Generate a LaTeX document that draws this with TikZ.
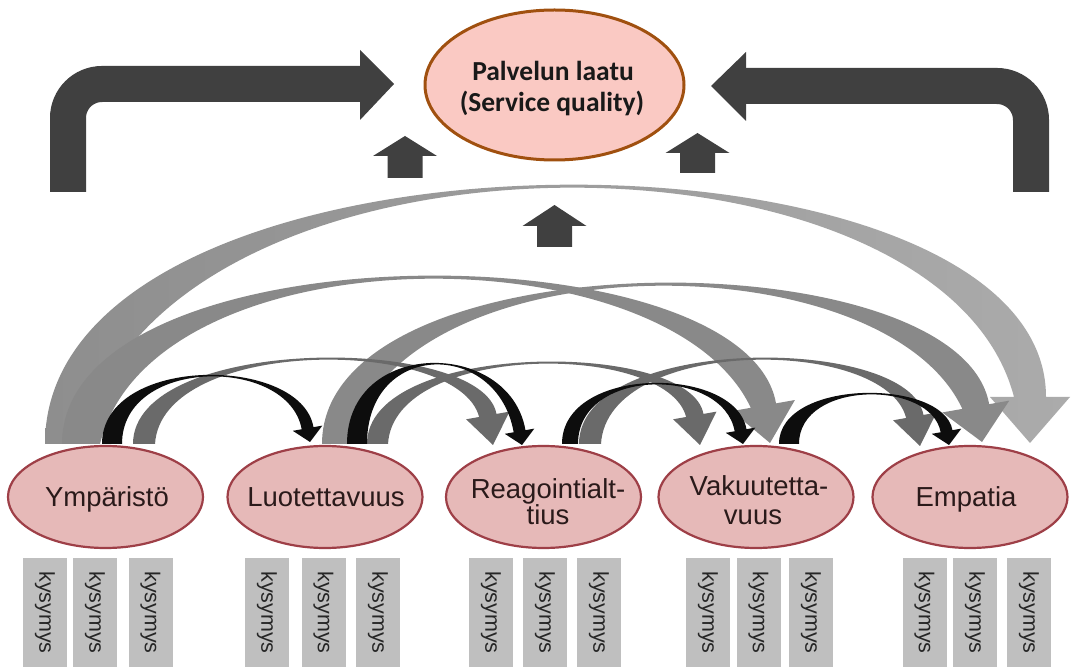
\documentclass[tikz,border=0pt]{standalone}
\usepackage{fontspec}
\setmainfont{Liberation Sans}
\newfontfamily\calibfont{Carlito}
\usetikzlibrary{shapes.geometric}
\definecolor{darkarrow}{HTML}{404040}
\definecolor{lgrayL}{HTML}{8E8E8E}
\definecolor{lgrayR}{HTML}{ABABAB}
\definecolor{mgray}{HTML}{898989}
\definecolor{dgray}{HTML}{6A6A6A}
\definecolor{blk}{HTML}{0D0D0D}
\definecolor{ellfill}{HTML}{E6B9B8}
\definecolor{ellborder}{HTML}{9E3F47}
\definecolor{topfill}{HTML}{FAC9C3}
\definecolor{topborder}{HTML}{A0500F}
\definecolor{boxgray}{HTML}{BFBFBF}
\definecolor{lbltext}{HTML}{2A1A1A}
\def\yb{444}
\def\tilt{80}
\def\flank{0.08}
% crescent-shaped curved arrow
% #1 style, #2 source left x, #3 source right x, #4 outer apex y, #5 apex thickness,
% #6 tip x, #7 tip y, #8 head half width, #9 head length
\newcommand\crarrow[9]{%
 \pgfmathsetmacro\ca{cos(\tilt)}%
 \pgfmathsetmacro\sa{sin(\tilt)}%
 \pgfmathsetmacro\be{0.4*#8}%
 \pgfmathsetmacro\Ex{#6-#9*\ca}%
 \pgfmathsetmacro\Ey{#7-#9*\sa}%
 \pgfmathsetmacro\eOx{\Ex+\be*\sa}%
 \pgfmathsetmacro\eOy{\Ey-\be*\ca}%
 \pgfmathsetmacro\eIx{\Ex-\be*\sa}%
 \pgfmathsetmacro\eIy{\Ey+\be*\ca}%
 \pgfmathsetmacro\wOx{\Ex+#8*\sa}%
 \pgfmathsetmacro\wOy{\Ey-#8*\ca}%
 \pgfmathsetmacro\wIx{\Ex-#8*\sa}%
 \pgfmathsetmacro\wIy{\Ey+#8*\ca}%
 \pgfmathsetmacro\cO{(8*#4-\yb-\eOy)/6}%
 \pgfmathsetmacro\cI{(8*(#4+#5)-\yb-\eIy)/6}%
 \pgfmathsetmacro\pOx{\eOx-(\eOy-\cO)*\ca/\sa}%
 \pgfmathsetmacro\sh{\flank*(\eIx-#3)}%
 \pgfmathsetmacro\pIx{\eIx-(\eIy-\cI)*\ca/\sa-\sh}%
 \pgfmathsetmacro\qIx{#3+\sh}%
 \path[#1] (#2,\yb) .. controls (#2,\cO) and (\pOx,\cO) .. (\eOx,\eOy)
   -- (\wOx,\wOy) -- (#6,#7) -- (\wIx,\wIy) -- (\eIx,\eIy)
   .. controls (\pIx,\cI) and (\qIx,\cI) .. (#3,\yb) -- cycle;
}
\begin{document}
\begin{tikzpicture}[x=1pt,y=-1pt,
  bigarrow/.style={draw=darkarrow, line width=36pt, rounded corners=34pt},
  dkfill/.style={fill=darkarrow},
  ellb/.style={ellipse, draw=ellborder, fill=ellfill, line width=2.2pt,
    minimum width=195pt, minimum height=102pt, inner sep=0pt},
  topell/.style={ellipse, draw=topborder, fill=topfill, line width=3pt,
    minimum width=259pt, minimum height=150pt, inner sep=0pt},
  lbl/.style={font=\fontsize{27.5}{28}\selectfont, text=lbltext, anchor=base, inner sep=0pt},
  ttl/.style={font=\calibfont\bfseries\fontsize{27.5}{30}\selectfont, text=black!90, anchor=base, inner sep=0pt},
  qbox/.style={rectangle, fill=boxgray, rotate=-90, minimum width=109pt,
    minimum height=44pt, inner sep=0pt, font=\fontsize{21.5}{22}\selectfont, text=black!85},
  lightarr/.style={shade, left color=lgrayL, right color=lgrayR},
  medarr/.style={fill=mgray},
  darkgarr/.style={fill=dgray},
  blackarr/.style={fill=blk}
]
\fill[white] (0,0) rectangle (1072,668);
\useasboundingbox (0,0) rectangle (1072,668);

% ---- curved arrows between the dimensions ----
\begingroup\def\tilt{90}
\crarrow{lightarr}{45}{82}{185}{3}{1030}{443}{40}{46}
\endgroup
\crarrow{medarr}{322}{349}{283}{3}{982}{442}{34}{36}
\crarrow{medarr}{62}{100}{276}{3}{770}{443}{32}{38}
\begingroup\def\flank{0.02}
\crarrow{darkgarr}{133}{155}{358}{2}{493}{445}{22}{30}
\crarrow{darkgarr}{367}{388}{362}{2}{700}{445}{22}{30}
\crarrow{darkgarr}{579}{601}{358}{2}{920}{446}{22}{30}
\endgroup
\begingroup\def\flank{0}
\crarrow{blackarr}{102}{122}{375}{1.5}{310}{442}{15}{14}
\crarrow{blackarr}{347}{367}{363}{1.5}{522}{445}{15}{14}
\crarrow{blackarr}{562}{578}{383}{1.5}{743}{444}{15}{14}
\crarrow{blackarr}{779}{799}{393}{1.5}{949}{445}{15}{14}
\endgroup

% ---- top node ----
\node[topell] (top) at (554.5,85) {};
\node[ttl] (top1) at (553,81) {Palvelun laatu};
\node[ttl] (top2) at (552,112) {(Service quality)};

% ---- big bent arrows ----
\coordinate (ls) at (68,192);
\coordinate (lc) at (68,84);
\coordinate (le) at (361,84);
\draw[bigarrow] (ls) -- (lc) -- (le);
\fill[dkfill] (360,50) -- (394,84) -- (360,120) -- cycle;
\coordinate (rs) at (1031,192);
\coordinate (rc) at (1031,86);
\coordinate (re) at (745,86);
\draw[bigarrow] (rs) -- (rc) -- (re);
\fill[dkfill] (746,52) -- (711,86) -- (746,121) -- cycle;

% ---- small up arrows ----
\fill[dkfill] (387.5,178) -- (387.5,156) -- (373,156) -- (405,136) -- (437,156) -- (422.5,156) -- (422.5,178) -- cycle;
\fill[dkfill] (680,173) -- (680,153) -- (665.5,153) -- (697.5,133) -- (729.5,153) -- (715,153) -- (715,173) -- cycle;
\fill[dkfill] (537,247) -- (537,226) -- (522.5,226) -- (554.5,205) -- (586.5,226) -- (572,226) -- (572,247) -- cycle;

% ---- dimension nodes ----
\node[ellb] (ymp) at (105.5,497) {};
\node[ellb] (luo) at (325,497) {};
\node[ellb] (rea) at (543.5,497) {};
\node[ellb] (vak) at (756,497) {};
\node[ellb] (emp) at (970,497) {};
\node[lbl] (ympt) at (107,507) {Ympäristö};
\node[lbl] (luot) at (326,506) {Luotettavuus};
\node[lbl] (rea1) at (548,498) {Reagointialt-};
\node[lbl] (rea2) at (548,525) {tius};
\node[lbl] (vak1) at (759,496) {Vakuutetta-};
\node[lbl] (vak2) at (753,525) {vuus};
\node[lbl] (empt) at (966,507) {Empatia};

% ---- question boxes ----
\foreach \n/\x in {y1/45,y2/95,y3/150.5,l1/267,l2/323.5,l3/378,r1/491,r2/545,r3/599,v1/708,v2/758.5,v3/811,e1/924.5,e2/975,e3/1029}{
  \node[qbox] (\n) at (\x,612.5) {kysymys};
}
\end{tikzpicture}
\end{document}
